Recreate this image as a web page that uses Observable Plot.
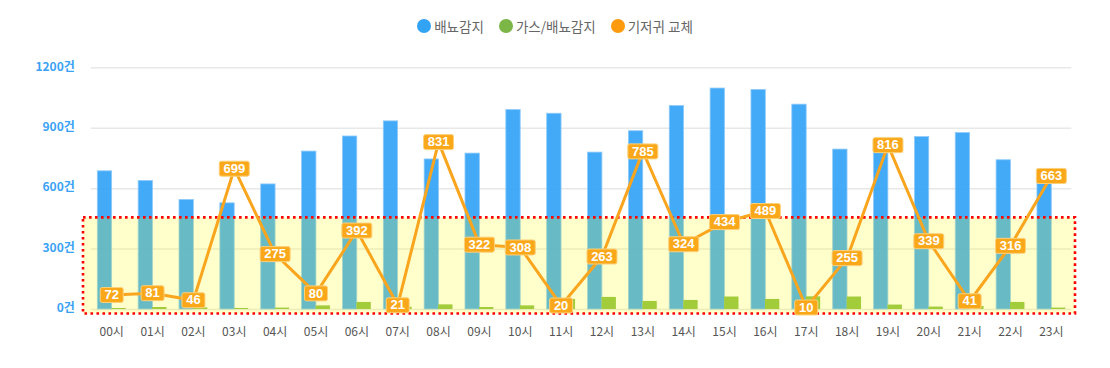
<!DOCTYPE html>
<html><head><meta charset="utf-8">
<script src="https://cdn.jsdelivr.net/npm/d3@7"></script>
<script src="https://cdn.jsdelivr.net/npm/@observablehq/plot@0.6"></script>
<style>
body{margin:0;background:#fff;font-family:"Noto Sans CJK KR","Noto Sans",sans-serif;}
#legend{height:51px;display:flex;justify-content:center;align-items:center;gap:15px;font-size:13.5px;color:#666}
.item{display:flex;align-items:center;gap:3px}
.sw{width:14px;height:14px;border-radius:50%;display:inline-block}
</style></head><body>
<div id="legend"></div><div id="chart"></div>
<script>
const hours = ["00시","01시","02시","03시","04시","05시","06시","07시","08시","09시","10시","11시","12시","13시","14시","15시","16시","17시","18시","19시","20시","21시","22시","23시"];
const urination = [686,638,544,527,621,784,859,934,745,774,990,972,779,885,1010,1097,1090,1017,794,785,856,876,741,624];
const gasUrination = [5,10,8,5,7,18,35,11,23,10,18,50,60,40,45,62,50,63,62,22,12,15,35,7];
const diaperChange = [72,81,46,699,275,80,392,21,831,322,308,20,263,785,324,434,489,10,255,816,339,41,316,663];
const seriesNames = ["배뇨감지","가스/배뇨감지","기저귀 교체"];
const seriesColors = ["#33a3f6","#7cb647","#fd9a0d"];
const yTicks = [0,300,600,900,1200];
const highlightBand = [-22, 455];

const legend = document.getElementById("legend");
seriesNames.forEach((n,i)=>{
  const it=document.createElement("div");it.className="item";
  const sw=document.createElement("span");sw.className="sw";sw.style.background=seriesColors[i];
  const t=document.createElement("span");t.textContent=n;
  it.appendChild(sw);it.appendChild(t);legend.appendChild(it);
});

const rows = hours.map((h,i)=>({hour:h, a:urination[i], g:gasUrination[i], d:diaperChange[i]}));

function roundedBox(w,h,r){return {draw(ctx){const x0=-w/2,y0=-h/2,x1=w/2,y1=h/2;
  ctx.moveTo(x0+r,y0);ctx.lineTo(x1-r,y0);ctx.arcTo(x1,y0,x1,y0+r,r);
  ctx.lineTo(x1,y1-r);ctx.arcTo(x1,y1,x1-r,y1,r);
  ctx.lineTo(x0+r,y1);ctx.arcTo(x0,y1,x0,y1-r,r);
  ctx.lineTo(x0,y0+r);ctx.arcTo(x0,y0,x0+r,y0,r);ctx.closePath();}};}

const chart = Plot.plot({
  width:1110, height:300,
  marginLeft:90.8, marginRight:38.7, marginTop:16.3, marginBottom:42,
  style:{fontFamily:'"Noto Sans CJK KR","Noto Sans",sans-serif', fontSize:"12px", color:"#555", background:"transparent"},
  x:{type:"band", domain:hours, padding:0, round:false, label:null, tickSize:0, tickPadding:18},
  y:{domain:[0,1200], axis:null},
  marks:[
    Plot.ruleY(yTicks,{stroke:"#e8e8e8", strokeWidth:1.5}),
    Plot.text(yTicks,{y:d=>d, frameAnchor:"left", dx:-16.5, dy:-1, textAnchor:"end", text:d=>d+"건", fill:"#3aa2f5", fontWeight:"bold", fontSize:12}),
    Plot.barY(rows,{x:"hour", y:"a", fill:seriesColors[0], fillOpacity:0.92, stroke:"#8fcafa", strokeWidth:0.8, insetLeft:6.5, insetRight:20}),
    Plot.barY(rows,{x:"hour", y:"g", fill:"#8cc04a", insetLeft:20.5, insetRight:6}),
    Plot.rect([highlightBand],{y1:d=>d[0], y2:d=>d[1], fill:"#ffff00", fillOpacity:0.2, stroke:"#ff0000", strokeWidth:2.6, strokeDasharray:"2.6 3.4", insetLeft:-7.8, insetRight:-3.7}),
    Plot.line(rows,{x:"hour", y:"d", stroke:"#f9a51e", strokeWidth:3}),
    Plot.dot(rows.filter(d=>d.d<100),{x:"hour", y:"d", symbol:roundedBox(23,15,2), r:5, fill:"#faa81a", stroke:"#fdd07a", strokeWidth:1}),
    Plot.dot(rows.filter(d=>d.d>=100),{x:"hour", y:"d", symbol:roundedBox(30,15,2), r:5, fill:"#faa81a", stroke:"#fdd07a", strokeWidth:1}),
    Plot.text(rows,{x:"hour", y:"d", text:d=>String(d.d), fill:"white", fontWeight:"bold", fontSize:13, fontFamily:'"Liberation Sans",Arial,sans-serif'})
  ]
});
document.getElementById("chart").appendChild(chart);
</script>
</body></html>
